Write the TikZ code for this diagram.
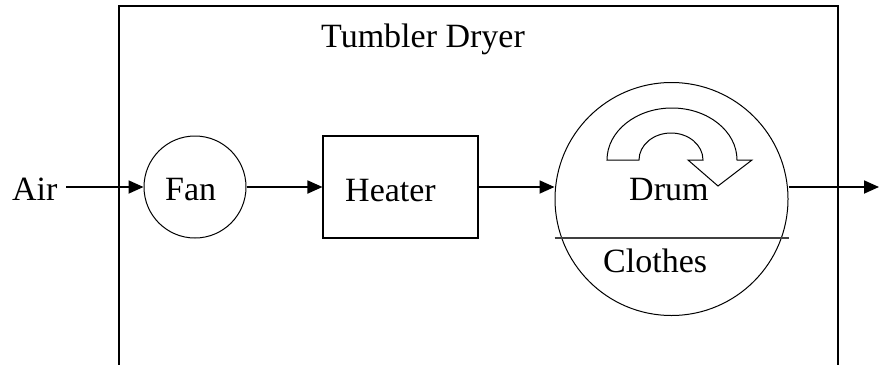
\documentclass[tikz,border=0pt]{standalone}
\usepackage{fontspec}
\setmainfont{Liberation Serif}
\usetikzlibrary{arrows.meta}
\begin{document}
\begin{tikzpicture}[x=1pt,y=-1pt,
  lbl/.style={inner sep=0pt, anchor=base west, font=\fontsize{34}{40}\selectfont},
  flow/.style={line width=1.8pt, -{Triangle[length=15pt,width=13pt]}},
  thinline/.style={line width=1pt}]
\clip (0,0) rectangle (880,364);
\fill[white] (0,0) rectangle (880,364);
% outer housing
\draw[line width=1.2pt] (119,420) -- (119,6) -- (838,6) -- (838,420);
\node[lbl] (title) at (321,47) {Tumbler Dryer};
% components
\node[draw, thinline, circle, minimum size=102pt, inner sep=0pt] (fan) at (195,187) {};
\node[draw, line width=1.1pt, rectangle, minimum width=155pt, minimum height=102pt, inner sep=0pt] (heater) at (400.5,187) {};
\node[draw, thinline, circle, minimum size=233pt, inner sep=0pt] (drum) at (671.5,199) {};
% labels
\node[lbl] (air) at (12,200) {Air};
\node[lbl] (fanl) at (165,200) {Fan};
\node[lbl] (heaterl) at (345,201) {Heater};
\node[lbl] (druml) at (629,200) {Drum};
\node[lbl] (clothesl) at (603,272) {Clothes};
% divider in drum
\coordinate (div) at (0,238);
\draw[line width=1.2pt, black!75] (drum.west |- div) -- (drum.east |- div);
% rotation arrow
\draw[thinline, line join=miter] (607,160)
  arc[start angle=180, end angle=0, x radius=65pt, y radius=52pt]
  -- (752,160) -- (718,186) -- (688,160) -- (703,160)
  arc[start angle=0, end angle=180, x radius=32pt, y radius=27pt] -- cycle;
% flow connectors
\coordinate (ain) at (66,187);
\coordinate (aout) at (879,187);
\draw[flow] (ain) -- (fan.west);
\draw[flow] (fan.east) -- (heater.west);
\draw[flow] (heater.east) -- (heater.east -| drum.west);
\draw[flow] (drum.east |- aout) -- (aout);
\end{tikzpicture}
\end{document}
